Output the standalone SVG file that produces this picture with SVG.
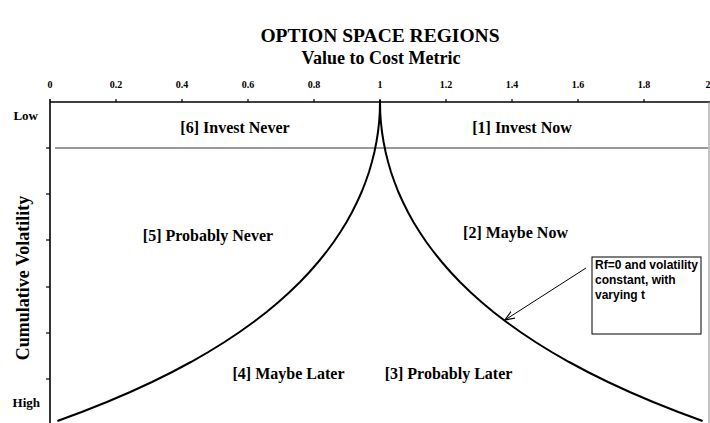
<svg xmlns="http://www.w3.org/2000/svg" width="710" height="423" viewBox="0 0 710 423">
<defs>
<style>
text{font-family:"Liberation Serif","Times New Roman",serif;font-weight:bold;fill:#000}
.title{font-size:19.5px}
.axt{font-size:18px}
.tick{font-size:10px;text-anchor:middle}
.lh{font-size:13px;text-anchor:end}
.reg{font-size:16px;text-anchor:middle}
.note{font-family:"Liberation Sans",Arial,sans-serif;font-size:12px}
.ax{stroke:#000;stroke-width:1.6;fill:none}
.tk{stroke:#000;stroke-width:1.2}
</style>
<marker id="ah" markerWidth="12" markerHeight="10" refX="10" refY="4" orient="auto" markerUnits="userSpaceOnUse">
<path d="M0,0 L10,4 L0,8" fill="none" stroke="#000" stroke-width="1.2"/>
</marker>
</defs>
<rect width="710" height="423" fill="#fff"/>
<text class="title" x="380" y="42" text-anchor="middle">OPTION SPACE REGIONS</text>
<text class="axt" x="381" y="64" text-anchor="middle">Value to Cost Metric</text>
<text class="axt" transform="translate(29,278) rotate(-90)" text-anchor="middle">Cumulative Volatility</text>
<g id="x-axis">
<line class="ax" x1="50" y1="102" x2="710" y2="102"/>
<g class="tk">
<line x1="116" y1="99" x2="116" y2="102"/><line x1="182" y1="99" x2="182" y2="102"/><line x1="248" y1="99" x2="248" y2="102"/><line x1="314" y1="99" x2="314" y2="102"/><line x1="380" y1="99" x2="380" y2="102"/><line x1="446" y1="99" x2="446" y2="102"/><line x1="512" y1="99" x2="512" y2="102"/><line x1="578" y1="99" x2="578" y2="102"/><line x1="644" y1="99" x2="644" y2="102"/>
</g>
<text class="tick" x="50" y="88">0</text><text class="tick" x="116" y="88">0.2</text><text class="tick" x="182" y="88">0.4</text><text class="tick" x="248" y="88">0.6</text><text class="tick" x="314" y="88">0.8</text><text class="tick" x="380" y="88">1</text><text class="tick" x="446" y="88">1.2</text><text class="tick" x="512" y="88">1.4</text><text class="tick" x="578" y="88">1.6</text><text class="tick" x="644" y="88">1.8</text><text class="tick" x="708" y="88">2</text>
</g>
<g id="y-axis">
<line class="ax" x1="50" y1="99" x2="50" y2="423"/>
<g class="tk">
<line x1="46" y1="148" x2="50" y2="148"/><line x1="46" y1="194" x2="50" y2="194"/><line x1="46" y1="240" x2="50" y2="240"/><line x1="46" y1="287" x2="50" y2="287"/><line x1="46" y1="333" x2="50" y2="333"/><line x1="46" y1="379" x2="50" y2="379"/>
</g>
<text class="lh" x="38" y="120">Low</text>
<text class="lh" x="40" y="407">High</text>
<line x1="709" y1="102" x2="709" y2="423" stroke="#888" stroke-width="1"/>
</g>
<g id="divider">
<line x1="55" y1="148" x2="708" y2="148" stroke="#333" stroke-width="1"/>
</g>
<g id="boundary-curve">
<path fill="none" stroke="#000" stroke-width="2" d="M57.4,421 L81.7,412 L106.9,402 L130.3,392 L152,382 L172.2,372 L190.9,362 L208.4,352 L224.6,342 L239.6,332 L253.6,322 L266.6,312 L278.6,302 L289.7,292 L300,282 L309.5,272 L318.2,262 L326.3,252 L333.7,242 L340.4,232 L346.6,222 L352.1,212 L357.1,202 L361.6,192 L365.5,182 L369,172 L371.9,162 L374.4,152 L376.4,142 L378,132 L379.1,122 L379.8,112 L380,100 L380.2,112 L380.9,122 L382,132 L383.6,142 L385.6,152 L388.1,162 L391,172 L394.5,182 L398.4,192 L402.9,202 L407.9,212 L413.4,222 L419.6,232 L426.3,242 L433.7,252 L441.8,262 L450.5,272 L460,282 L470.3,292 L481.4,302 L493.4,312 L506.4,322 L520.4,332 L535.4,342 L551.6,352 L569.1,362 L587.8,372 L608,382 L629.7,392 L653.1,402 L678.3,412 L702.6,421"/>
</g>
<g id="region-6"><text class="reg" x="235" y="133">[6] Invest Never</text></g>
<g id="region-1"><text class="reg" x="522" y="133">[1] Invest Now</text></g>
<g id="region-5"><text class="reg" x="208" y="241">[5] Probably Never</text></g>
<g id="region-2"><text class="reg" x="515.5" y="238">[2] Maybe Now</text></g>
<g id="region-4"><text class="reg" x="288.5" y="379">[4] Maybe Later</text></g>
<g id="region-3"><text class="reg" x="448.5" y="379">[3] Probably Later</text></g>
<g id="note">
<rect x="592" y="257" width="109" height="77" fill="#fff" stroke="#000" stroke-width="1"/>
<text class="note" x="595" y="269">Rf=0 and volatility</text>
<text class="note" x="595" y="284">constant, with</text>
<text class="note" x="595" y="299">varying t</text>
</g>
<g id="connectors">
<line x1="586" y1="268" x2="505" y2="320" stroke="#000" stroke-width="1" marker-end="url(#ah)"/>
</g>
</svg>
